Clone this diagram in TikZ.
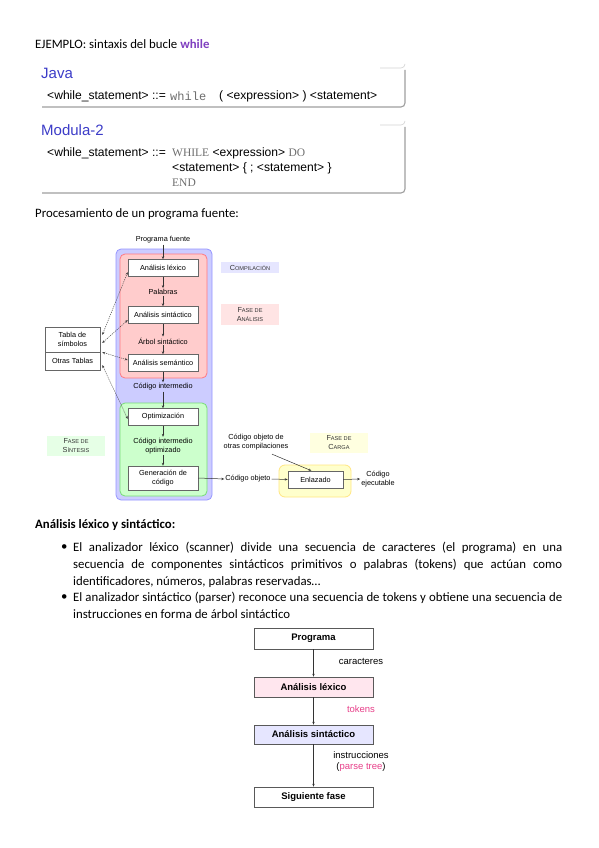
\documentclass[tikz,border=0pt]{standalone}
\usepackage{fontspec}
\setmainfont{Carlito}
\newfontfamily\arial{Liberation Sans}
\newfontfamily\cmono{Liberation Mono}
\newfontfamily\tserif{Liberation Serif}
\usetikzlibrary{arrows.meta,calc}
\newcommand\fsz[2]{\fontsize{#1}{#2}\selectfont}
\newcommand\fakesc[2]{#1{\fsz{5.6}{7}#2}}
\definecolor{wpurple}{RGB}{128,64,192}
\definecolor{tblue}{RGB}{60,60,200}
\definecolor{codegray}{RGB}{110,110,110}
\definecolor{cblue}{RGB}{204,204,255}
\definecolor{cblueb}{RGB}{150,150,255}
\definecolor{cred}{RGB}{255,204,204}
\definecolor{credb}{RGB}{255,120,130}
\definecolor{cgreen}{RGB}{204,255,204}
\definecolor{cgreenb}{RGB}{120,220,120}
\definecolor{cyellow}{RGB}{255,255,204}
\definecolor{cyellowb}{RGB}{255,230,130}
\definecolor{lblue}{RGB}{230,230,255}
\definecolor{lred}{RGB}{255,228,228}
\definecolor{lgreen}{RGB}{230,255,230}
\definecolor{lyellow}{RGB}{255,255,224}
\definecolor{fpink}{RGB}{255,230,238}
\definecolor{fblue}{RGB}{230,230,255}
\definecolor{tokpink}{RGB}{232,64,138}
\begin{document}
\begin{tikzpicture}[x=1pt,y=-1pt,
  body/.style={anchor=west,inner sep=0pt,font=\fsz{12.8}{15}},
  panel/.style={draw=gray!75,line width=1.1pt,rounded corners=4pt},
  ptitle/.style={anchor=west,inner sep=0pt,text=tblue,font=\arial\fsz{15}{17}},
  pline/.style={anchor=west,inner sep=0pt,font=\arial\fsz{12.1}{14}},
  dbox/.style={draw=gray!80!black,fill=white,line width=0.5pt,minimum width=70pt,minimum height=17pt,inner sep=1pt,align=center,font=\arial\fsz{7.3}{9}},
  dtext/.style={inner sep=1pt,align=center,font=\arial\fsz{7.3}{9}},
  phase/.style={minimum width=58pt,inner sep=0pt,align=center,font=\arial\fsz{7.3}{9},text=black!80},
  darr/.style={-{Stealth[length=3pt,width=2.4pt]},line width=0.5pt,black!80},
  dash2/.style={{Stealth[length=3pt,width=2.4pt]}-{Stealth[length=3pt,width=2.4pt]},line width=0.45pt,dash pattern=on 1.2pt off 1pt,black!75},
  fbox/.style={draw=black!65,line width=0.6pt,minimum width=119pt,inner sep=1pt,font=\arial\bfseries\fsz{9.5}{11}},
  farr/.style={-{Stealth[length=3pt,width=2.4pt]},line width=0.5pt,black!80},
  flab/.style={inner sep=0pt,align=center,font=\arial\fsz{9.5}{11}}
]
\useasboundingbox (0,0) rectangle (599,848);
\fill[white] (0,0) rectangle (599,848);

% heading
\node[body] (h1) at (35,44) {EJEMPLO: sintaxis del bucle \textcolor{wpurple}{\bfseries while}};

% Java panel
\fill[white] (38,68) rectangle (405,107);
\draw[panel] (42,107) -- (405,107) -- (405,70);
\draw[gray!35,line width=0.6pt] (380,68) -- (401,68) arc[start angle=90,end angle=0,radius=4];
\node[ptitle] (jt) at (41,73) {Java};
\node[pline] (j1) at (47,96) {<while\_statement> ::=};
\node[pline] (j2) at (170,96) {\cmono\fsz{12}{14}\textcolor{codegray}{while}};
\node[pline] (j3) at (219,96) {( <expression> ) <statement>};

% Modula panel
\fill[white] (38,125) rectangle (405,193);
\draw[panel] (42,193) -- (405,193) -- (405,127);
\draw[gray!35,line width=0.6pt] (380,125) -- (401,125) arc[start angle=90,end angle=0,radius=4];
\node[ptitle] (mt) at (41,130) {Modula-2};
\node[pline] (m1) at (47,153) {<while\_statement> ::=};
\node[pline] (m2) at (172,153) {{\tserif\fsz{11.5}{14}\textcolor{codegray}{WHILE}} <expression> {\tserif\fsz{11.5}{14}\textcolor{codegray}{DO}}};
\node[pline] (m3) at (172,168) {<statement> \{ ; <statement> \}};
\node[pline] (m4) at (172,183) {\tserif\fsz{11.5}{14}\textcolor{codegray}{END}};

\node[body] (proc) at (35,214) {Procesamiento de un programa fuente:};

% compilation diagram
\draw[fill=cblue,draw=cblueb,line width=0.8pt,rounded corners=5pt] (116,249) rectangle (212,500);
\draw[fill=cred,draw=credb,line width=0.8pt,rounded corners=5pt] (120,254) rectangle (207,378);
\draw[fill=cgreen,draw=cgreenb,line width=0.8pt,rounded corners=5pt] (120,403) rectangle (207,496);
\draw[fill=cyellow,draw=cyellowb,line width=0.8pt,rounded corners=6pt] (279,465) rectangle (351,497);

\node[dtext] (pf) at (163,240) {Programa fuente};
\node[dbox] (lex) at (163,268) {Análisis léxico};
\node[dtext] (pal) at (163,292) {Palabras};
\node[dbox] (sin) at (163,315) {Análisis sintáctico};
\node[dtext] (arb) at (163,341) {Árbol sintáctico};
\node[dbox] (sem) at (163,363) {Análisis semántico};
\node[dtext] (ci) at (163,387) {Código intermedio};
\node[dbox] (opt) at (163,417) {Optimización};
\node[dtext] (cio) at (163,446) {Código intermedio\\optimizado};
\node[dbox,minimum height=24pt] (gen) at (163,478) {Generación de\\código};

\node[dbox,minimum width=55pt] (enl) at (315.5,479.5) {Enlazado};
\node[dtext] (cob) at (248,479) {Código objeto};
\node[dtext] (coc) at (256,442) {Código objeto de\\otras compilaciones};
\node[dtext] (cej) at (378,479) {Código\\ejecutable};

\node[dbox,minimum width=55pt,minimum height=25pt] (ts) at (72.5,339.5) {Tabla de\\símbolos};
\node[dbox,minimum width=55pt,minimum height=18pt] (ot) at (72.5,361) {Otras Tablas};

\node[phase,fill=lblue,minimum height=11pt] (pc) at (250,267.5) {\fakesc{C}{OMPILACIÓN}};
\node[phase,fill=lred,minimum height=21pt] (pa) at (250,314.5) {\fakesc{F}{ASE DE}\\\fakesc{A}{NÁLISIS}};
\node[phase,fill=lgreen,minimum height=20pt] (ps) at (76,446) {\fakesc{F}{ASE DE}\\\fakesc{S}{ÍNTESIS}};
\node[phase,fill=lyellow,minimum height=20pt] (pk) at (339,443) {\fakesc{F}{ASE DE}\\\fakesc{C}{ARGA}};

\draw[darr] (pf) -- (lex);
\draw[darr] (lex) -- (pal);
\draw[darr] (pal) -- (sin);
\draw[darr] (sin) -- (arb);
\draw[darr] (arb) -- (sem);
\draw[darr] (sem) -- (ci);
\draw[darr] (ci) -- (opt);
\draw[darr] (opt) -- (cio);
\draw[darr] (cio) -- (gen);
\draw[darr] (gen.east) -- (cob.west);
\draw[darr] (cob.east) -- (enl.west);
\draw[darr] (enl.east) -- (cej.west);
\draw[darr] (coc.south) ++(16,3) coordinate (cocs) (cocs) -- ([xshift=-4pt]enl.north);

\draw[dash2] ([yshift=4.5pt,xshift=2pt]ts.east) -- ([yshift=-4pt]lex.west);
\draw[dash2] ([yshift=-3.5pt,xshift=2pt]ts.east) -- ([yshift=-5pt]sin.west);
\draw[dash2] ([xshift=2pt]ts.south east) -- ([yshift=3pt]sem.west);
\draw[dash2] ([yshift=-4pt,xshift=2pt]ot.east) -- ([yshift=-2pt]opt.west);

% bottom text
\node[body,font=\bfseries\fsz{12.8}{15}] (h2) at (35,525) {Análisis léxico y sintáctico:};
\node[body] (b1) at (61,548) {•};
\node[body] (l1) at (73,548) {\makebox[489pt][s]{El analizador léxico (scanner) divide una secuencia de caracteres (el programa) en una}};
\node[body] (l2) at (73,565) {\makebox[489pt][s]{secuencia de componentes sintácticos primitivos o palabras (tokens) que actúan como}};
\node[body] (l3) at (73,582) {identificadores, números, palabras reservadas…};
\node[body] (b2) at (61,598) {•};
\node[body] (l4) at (73,598) {\makebox[489pt][s]{El analizador sintáctico (parser) reconoce una secuencia de tokens y obtiene una secuencia de}};
\node[body] (l5) at (73,614) {instrucciones en forma de árbol sintáctico};

% bottom flow
\node[fbox,minimum height=21pt] (fp) at (313.5,638.5) {Programa};
\node[fbox,fill=fpink,minimum height=20pt] (fl) at (313.5,687) {Análisis léxico};
\node[fbox,fill=fblue,minimum height=19pt] (fs) at (313.5,734.5) {Análisis sintáctico};
\node[fbox,minimum height=20pt] (ff) at (313.5,797) {Siguiente fase};
\draw[farr] (fp) -- (fl);
\draw[farr] (fl) -- (fs);
\draw[farr] (fs) -- (ff);
\node[flab] (car) at (361,661) {caracteres};
\node[flab,text=tokpink] (tok) at (361,709) {tokens};
\node[flab] (ins) at (361,762) {instrucciones\\(\textcolor{tokpink}{parse tree})};
\end{tikzpicture}
\end{document}
